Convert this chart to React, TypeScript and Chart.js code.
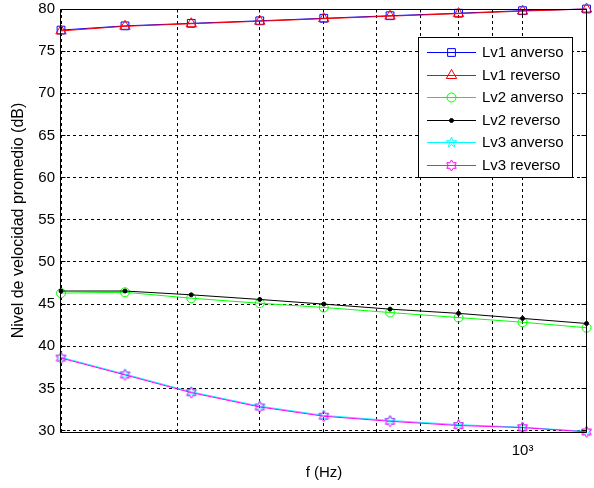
import React, { useEffect, useRef } from 'react';
import { Chart, registerables } from 'chart.js';
import { drawPoint } from 'chart.js/helpers';

Chart.register(...registerables);

// ---------- data ----------
const frequencies = [200, 250, 315, 400, 500, 630, 800, 1000, 1250];
const lv1Anverso = [77.5, 78.0, 78.3, 78.6, 78.9, 79.2, 79.5, 79.8, 80.0];
const lv1Reverso = [77.4, 77.95, 78.25, 78.55, 78.85, 79.15, 79.45, 79.75, 80.0];
const lv2Anverso = [46.3, 46.4, 45.7, 45.1, 44.6, 44.0, 43.4, 42.85, 42.2];
const lv2Reverso = [46.55, 46.55, 46.1, 45.55, 45.0, 44.4, 43.9, 43.3, 42.7];
const lv3Anverso = [38.7, 36.7, 34.6, 32.9, 31.8, 31.2, 30.7, 30.4, 29.9];
const lv3Reverso = [38.6, 36.6, 34.5, 32.8, 31.7, 31.1, 30.6, 30.35, 29.85];

const seriesLabels = ['Lv1 anverso', 'Lv1 reverso', 'Lv2 anverso', 'Lv2 reverso', 'Lv3 anverso', 'Lv3 reverso'];
const seriesValues = [lv1Anverso, lv1Reverso, lv2Anverso, lv2Reverso, lv3Anverso, lv3Reverso];
const seriesColors = ['#0000ff', '#ff0000', '#00ff00', '#000000', '#00ffff', '#ff00ff'];

const xGridTicks = [200, 300, 400, 500, 600, 700, 800, 900, 1000];
const xMajorTick = 1000;
const xMajorLabel = '10³';
const yTicks = [30, 35, 40, 45, 50, 55, 60, 65, 70, 75, 80];
const xTitle = 'f (Hz)';
const yTitle = 'Nivel de velocidad promedio (dB)';

const FONT = '"Liberation Sans", Arial, Helvetica, sans-serif';

function makeStar(points: number, outer: number, inner: number, color: string): HTMLCanvasElement {
  const c = document.createElement('canvas');
  c.width = 15;
  c.height = 15;
  const g = c.getContext('2d')!;
  g.strokeStyle = color;
  g.lineWidth = 1;
  g.beginPath();
  for (let i = 0; i < points * 2; i++) {
    const r = i % 2 === 0 ? outer : inner;
    const a = -Math.PI / 2 + (i * Math.PI) / points;
    const px = 7.5 + r * Math.cos(a);
    const py = 7.5 + r * Math.sin(a);
    if (i === 0) g.moveTo(px, py);
    else g.lineTo(px, py);
  }
  g.closePath();
  g.stroke();
  return c;
}

export default function App() {
  const ref = useRef<HTMLCanvasElement>(null);

  useEffect(() => {
    if (!ref.current) return;
    const pentagram = makeStar(5, 5.5, 2.2, '#00ffff');
    const hexagram = makeStar(6, 5.5, 3.2, '#ff00ff');

    const pointStyles: any[] = ['rect', 'triangle', 'circle', 'circle', pentagram, hexagram];
    const pointRadii = [5.5, 6, 4.5, 2, 5.5, 5.5];
    const pointFills = ['rgba(0,0,0,0)', 'rgba(0,0,0,0)', 'rgba(0,0,0,0)', '#000000', 'rgba(0,0,0,0)', 'rgba(0,0,0,0)'];

    const datasets = seriesLabels.map((label, i) => ({
      label,
      data: frequencies.map((f, k) => ({ x: f, y: seriesValues[i][k] })),
      borderColor: seriesColors[i],
      backgroundColor: seriesColors[i],
      borderWidth: 1,
      pointStyle: pointStyles[i],
      pointRadius: pointRadii[i],
      pointBorderColor: seriesColors[i],
      pointBackgroundColor: pointFills[i],
      pointBorderWidth: 1,
      tension: 0,
      fill: false,
      clip: false as any,
      order: seriesLabels.length - i,
    }));

    const framePlugin = {
      id: 'frame',
      afterDatasetsDraw(chart: any) {
        const { ctx, chartArea } = chart;
        const { left, right, top, bottom } = chartArea;
        const xs = chart.scales.x;
        const ys = chart.scales.y;
        ctx.save();
        ctx.strokeStyle = '#000';
        ctx.lineWidth = 1;
        ctx.setLineDash([]);
        const L = left - 0.5, R = right - 0.5, T = top + 0.5, B = bottom + 0.5;
        ctx.beginPath();
        ctx.moveTo(L, T); ctx.lineTo(R, T); ctx.lineTo(R, B); ctx.lineTo(L, B); ctx.closePath();
        ctx.stroke();
        // inward ticks
        ctx.beginPath();
        xGridTicks.forEach((v) => {
          const p = Math.round(xs.getPixelForValue(v) - 0.5) + 0.5;
          const len = v === xMajorTick ? 6 : 3;
          ctx.moveTo(p, B); ctx.lineTo(p, B - len);
          ctx.moveTo(p, T); ctx.lineTo(p, T + len);
        });
        yTicks.forEach((v) => {
          const p = Math.round(ys.getPixelForValue(v) - 0.5) + 0.5;
          ctx.moveTo(L, p); ctx.lineTo(L + 5, p);
          ctx.moveTo(R, p); ctx.lineTo(R - 5, p);
        });
        ctx.stroke();

        // legend box
        const bx = right - 169, by = top + 28, bw = 154, bh = 140;
        ctx.fillStyle = '#fff';
        ctx.fillRect(bx, by, bw, bh);
        ctx.strokeStyle = '#000';
        ctx.strokeRect(bx + 0.5, by + 0.5, bw, bh);
        ctx.font = '15px ' + FONT;
        ctx.textBaseline = 'middle';
        ctx.textAlign = 'left';
        chart.data.datasets.forEach((ds: any, i: number) => {
          const ry = Math.round(by + 15 + i * 22.5) + 0.5;
          ctx.setLineDash([]);
          ctx.strokeStyle = seriesColors[i];
          ctx.lineWidth = 1;
          ctx.beginPath();
          ctx.moveTo(bx + 9, ry);
          ctx.lineTo(bx + 58, ry);
          ctx.stroke();
          ctx.fillStyle = ds.pointBackgroundColor;
          ctx.strokeStyle = seriesColors[i];
          drawPoint(ctx, { pointStyle: ds.pointStyle, radius: ds.pointRadius, rotation: 0, borderWidth: 1 } as any, bx + 33.5, ry);
          ctx.fillStyle = '#000';
          ctx.fillText(ds.label, bx + 64, ry);
        });
        ctx.restore();
      },
    };

    const chart = new Chart(ref.current, {
      type: 'line',
      data: { datasets: datasets as any },
      options: {
        responsive: false,
        animation: false,
        devicePixelRatio: 1,
        events: [],
        layout: { padding: { top: 9, right: 2, left: 0, bottom: 0 } },
        plugins: {
          legend: { display: false },
          tooltip: { enabled: false },
          title: { display: false },
        },
        scales: {
          x: {
            type: 'logarithmic',
            position: 'bottom',
            min: 200,
            max: 1252,
            afterBuildTicks: (scale: any) => {
              scale.ticks = xGridTicks.map((v) => ({ value: v, major: v === xMajorTick }));
            },
            afterFit: (scale: any) => {
              scale.height = 56;
              scale.paddingLeft = 0;
              scale.paddingRight = 0;
            },
            ticks: {
              autoSkip: false,
              maxRotation: 0,
              minRotation: 0,
              padding: 10,
              color: '#000',
              font: { family: FONT, size: 15 },
              callback: (v: any) => (Number(v) === xMajorTick ? xMajorLabel : ''),
            },
            grid: { color: '#000', lineWidth: 1, drawTicks: false },
            border: { display: false, dash: [3, 3] },
            title: {
              display: true,
              text: xTitle,
              color: '#000',
              font: { family: FONT, size: 15 },
              padding: { top: 0, bottom: 6 },
            },
          },
          y: {
            type: 'linear',
            min: 29.83,
            max: 80,
            afterBuildTicks: (scale: any) => {
              scale.ticks = yTicks.map((v) => ({ value: v }));
            },
            afterFit: (scale: any) => {
              scale.width = 61;
              scale.paddingTop = 0;
              scale.paddingBottom = 0;
            },
            ticks: {
              padding: 6,
              color: '#000',
              font: { family: FONT, size: 15 },
              callback: (v: any) => String(v),
            },
            grid: { color: '#000', lineWidth: 1, drawTicks: false },
            border: { display: false, dash: [3, 3] },
            title: {
              display: true,
              text: yTitle,
              color: '#000',
              font: { family: FONT, size: 16 },
              padding: { top: 9, bottom: 0 },
            },
          },
        },
      } as any,
      plugins: [framePlugin],
    });
    return () => chart.destroy();
  }, []);

  return (
    <div style={{ position: 'absolute', left: 0, top: 0, width: 594, height: 488, background: '#fff' }}>
      <canvas ref={ref} width={594} height={488} style={{ display: 'block' }} />
    </div>
  );
}
